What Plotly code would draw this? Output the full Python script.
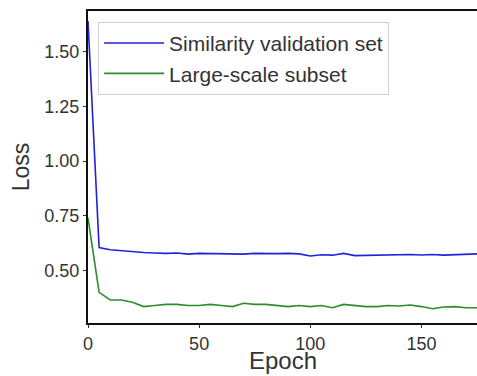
import plotly.graph_objects as go

epochs = list(range(0, 180, 5))
sim_val = [1.64, 0.605, 0.595, 0.59, 0.585, 0.582, 0.58, 0.578, 0.58, 0.575, 0.578, 0.577,
           0.578, 0.577, 0.575, 0.578, 0.576, 0.577, 0.578, 0.576, 0.566, 0.572, 0.570, 0.578,
           0.568, 0.569, 0.571, 0.572, 0.571, 0.573, 0.571, 0.573, 0.570, 0.572, 0.574, 0.576]
large_sub = [0.74, 0.40, 0.365, 0.365, 0.355, 0.335, 0.34, 0.345, 0.345, 0.34, 0.34, 0.345,
             0.34, 0.335, 0.35, 0.345, 0.345, 0.34, 0.335, 0.34, 0.335, 0.34, 0.33, 0.345,
             0.34, 0.335, 0.335, 0.34, 0.338, 0.342, 0.335, 0.325, 0.333, 0.335, 0.33, 0.33]
y_ticks = [0.50, 0.75, 1.00, 1.25, 1.50]
x_ticks = [0, 50, 100, 150]

fig = go.Figure()
fig.add_trace(go.Scatter(x=epochs, y=sim_val, mode="lines", name="Similarity validation set",
                         line=dict(color="#2222dd", width=1.6)))
fig.add_trace(go.Scatter(x=epochs, y=large_sub, mode="lines", name="Large-scale subset",
                         line=dict(color="#2e8b2e", width=1.6)))

font = "Liberation Sans, Arial, sans-serif"
fig.update_layout(
    width=477, height=376,
    margin=dict(l=88, r=0, t=11, b=53, autoexpand=False),
    paper_bgcolor="white", plot_bgcolor="white",
    font=dict(family=font, color="#333333", size=18),
    showlegend=True,
    legend=dict(x=0.026, y=0.965, xanchor="left", yanchor="top",
                bgcolor="rgba(255,255,255,0.9)", bordercolor="#d0d0d0", borderwidth=1,
                font=dict(size=21, color="#333333"), tracegroupgap=0, itemwidth=60),
    xaxis=dict(range=[0, 175], tickvals=x_ticks, ticks="outside", ticklen=3, tickwidth=1,
               tickcolor="#333333", showline=True, linecolor="#111111", linewidth=2,
               mirror=True, showgrid=False, zeroline=False, automargin=False,
               tickfont=dict(size=18)),
    yaxis=dict(range=[0.26, 1.686], tickvals=y_ticks, tickformat=".2f", ticks="outside",
               ticklen=3, tickwidth=1, tickcolor="#333333", showline=True,
               linecolor="#111111", linewidth=2, showgrid=False, zeroline=False,
               automargin=False, tickfont=dict(size=18),
               title=dict(text="Loss", font=dict(size=23), standoff=8)),
    annotations=[dict(text="Epoch", xref="paper", yref="paper", x=0.5, y=-0.17,
                      xanchor="center", yanchor="bottom", showarrow=False,
                      font=dict(size=24, color="#333333"))],
)

fig.write_html("out.html", post_script="document.body.style.margin='0';",
               config={"displayModeBar": False})
